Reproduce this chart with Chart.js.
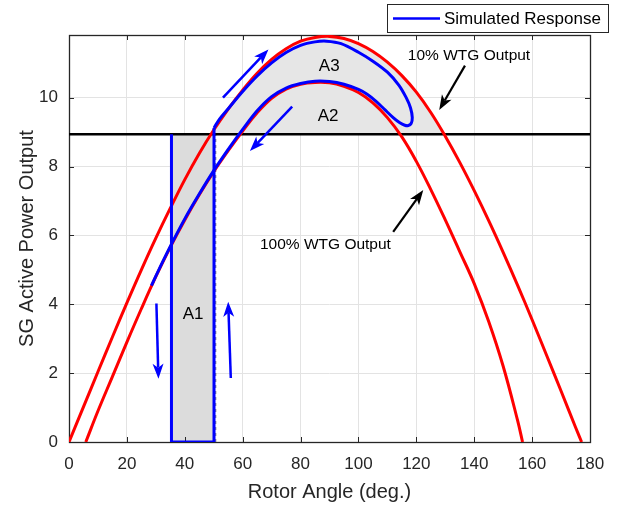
<!DOCTYPE html>
<html><head><meta charset="utf-8">
<script src="https://cdn.jsdelivr.net/npm/chart.js@4.4.1/dist/chart.umd.min.js"></script>
<style>html,body{margin:0;padding:0;background:#fff}canvas{display:block}</style>
</head><body>
<canvas id="c" width="625" height="508"></canvas>
<script>
// ---- data ----
const angle10  = [0,5,10,15,20,25,30,35,40,45,50,55,60,65,70,75,80,85,90,95,100,105,110,115,120,125,130,135,140,145,150,155,160,165,170,175,177.1];
const power10  = [0,1.02,2.04,3.05,4.04,5.0,5.92,6.79,7.62,8.38,9.06,9.67,10.22,10.71,11.11,11.42,11.64,11.75,11.78,11.72,11.57,11.34,11.03,10.64,10.16,9.57,8.88,8.12,7.3,6.43,5.51,4.55,3.55,2.52,1.48,0.43,0];
const angle100 = [5.8,10,15,20,25,30,35,40,45,50,55,60,65,70,75,80,85,90,95,100,105,110,115,120,125,130,135,140,145,150,155,156.7];
const power100 = [0,0.9,1.9,2.9,3.87,4.8,5.66,6.45,7.18,7.85,8.46,9.03,9.56,9.98,10.25,10.39,10.44,10.43,10.33,10.15,9.85,9.42,8.86,8.15,7.33,6.45,5.53,4.6,3.5,2.2,0.62,0];
const mechPower = 8.94;
const faultAngle = [35.4,35.4,50.1,50.1];
const faultPower = [8.94,0,0,9.12];
const swingAngle = [50.1,52,55,60,65,70,75,80,85,89,94,100,105,110,114,116.5,118,118.6,118.2,117.2,116,114.3,112,109,106,103,100,95,90,85,80,75,70,65,60,55,50,45,40,35,30,28.5];
const swingPower = [9.12,9.38,9.68,10.18,10.63,11.01,11.31,11.52,11.62,11.64,11.57,11.32,11.06,10.74,10.36,10.0,9.7,9.42,9.25,9.19,9.2,9.27,9.42,9.66,9.9,10.1,10.24,10.39,10.47,10.48,10.41,10.28,10.03,9.62,9.08,8.5,7.88,7.2,6.48,5.68,4.82,4.54];
const a1Angle = [35.4,50.1];
const xTicks = [0,20,40,60,80,100,120,140,160,180];
const yTicks = [0,2,4,6,8,10];
const labelText  = ['A1','A2','A3','10% WTG Output','100% WTG Output'];
const labelAngle = [42.9,89.5,89.9,138.2,88.6];
const labelPower = [3.72,9.45,10.9,11.22,5.72];
const labelSize  = [17,17,17,15.5,15.5];
const blueArrowFrom = [[53.2,10.0],[77.1,9.74],[30.2,4.02],[55.9,1.86]];
const blueArrowTo   = [[68.9,11.4],[62.5,8.45],[30.9,1.84],[55.0,4.07]];
const blackArrowFrom = [[136.8,10.93],[112.0,6.1]];
const blackArrowTo   = [[127.9,9.64],[122.4,7.32]];
const legendText = 'Simulated Response';

const pts = (xs, ys) => xs.map((x,i)=>({x, y: ys[i]}));
const FONT = "'Liberation Sans', Arial, Helvetica, sans-serif";
const TXT = '#262626';

const overlay = {
  id: 'overlay',
  beforeDatasetsDraw(chart){
    const {ctx, chartArea:a, scales:{x,y}} = chart;
    ctx.save();
    ctx.strokeStyle = '#262626'; ctx.lineWidth = 1;
    ctx.beginPath();
    x.ticks.forEach(t=>{ const p = Math.round(x.getPixelForValue(t.value))+0.5;
      ctx.moveTo(p,a.bottom); ctx.lineTo(p,a.bottom-5); ctx.moveTo(p,a.top); ctx.lineTo(p,a.top+5); });
    y.ticks.forEach(t=>{ const p = Math.round(y.getPixelForValue(t.value))+0.5;
      ctx.moveTo(a.left,p); ctx.lineTo(a.left+5,p); ctx.moveTo(a.right,p); ctx.lineTo(a.right-5,p); });
    ctx.stroke();
    ctx.lineWidth = 1.3;
    ctx.strokeRect(Math.round(a.left)+0.5, Math.round(a.top)+0.5, Math.round(a.right-a.left), Math.round(a.bottom-a.top));
    ctx.restore();
  },
  afterDatasetsDraw(chart){
    const {ctx, scales:{x,y}} = chart;
    ctx.save();
    const arrow = (f, t, color, w) => {
      const x0 = x.getPixelForValue(f[0]), y0 = y.getPixelForValue(f[1]);
      const x1 = x.getPixelForValue(t[0]), y1 = y.getPixelForValue(t[1]);
      const ang = Math.atan2(y1-y0, x1-x0);
      const L = 15, H = 5.5, N = 11;
      ctx.strokeStyle = color; ctx.fillStyle = color; ctx.lineWidth = w;
      ctx.beginPath(); ctx.moveTo(x0,y0);
      ctx.lineTo(x1 - Math.cos(ang)*N, y1 - Math.sin(ang)*N); ctx.stroke();
      const c = Math.cos(ang), s = Math.sin(ang);
      const P = (u,v) => [x1 + c*u - s*v, y1 + s*u + c*v];
      ctx.beginPath();
      let p = P(0,0); ctx.moveTo(p[0],p[1]);
      p = P(-L, H); ctx.lineTo(p[0],p[1]);
      p = P(-N, 0); ctx.lineTo(p[0],p[1]);
      p = P(-L, -H); ctx.lineTo(p[0],p[1]);
      ctx.closePath(); ctx.fill();
    };
    blueArrowFrom.forEach((f,i)=>arrow(f, blueArrowTo[i], '#0000ff', 2.5));
    blackArrowFrom.forEach((f,i)=>arrow(f, blackArrowTo[i], '#000000', 2.2));
    ctx.fillStyle = '#000'; ctx.textAlign = 'center'; ctx.textBaseline = 'middle';
    labelText.forEach((s,i)=>{
      ctx.font = labelSize[i] + 'px ' + FONT;
      ctx.fillText(s, x.getPixelForValue(labelAngle[i]), y.getPixelForValue(labelPower[i]));
    });
    // legend box
    ctx.fillStyle = '#fff'; ctx.fillRect(387.5,4.5,221,28);
    ctx.strokeStyle = '#262626'; ctx.lineWidth = 1; ctx.strokeRect(387.5,4.5,221,28);
    ctx.strokeStyle = '#0000ff'; ctx.lineWidth = 2.5;
    ctx.beginPath(); ctx.moveTo(393,18.5); ctx.lineTo(440,18.5); ctx.stroke();
    ctx.fillStyle = '#000'; ctx.textAlign = 'left'; ctx.font = '17px ' + FONT;
    ctx.fillText(legendText, 444, 19);
    ctx.restore();
  }
};

new Chart(document.getElementById('c'), {
  type: 'scatter',
  data: { datasets: [
    { label: legendText, data: pts(swingAngle, swingPower), showLine: true, borderColor: '#0000ff', borderWidth: 3, pointRadius: 0, tension: 0.3, fill: false },
    { label: 'fault', data: pts(faultAngle, faultPower), showLine: true, borderColor: '#0000ff', borderWidth: 3, pointRadius: 0, tension: 0, fill: false },
    { label: '100% WTG', data: pts(angle100, power100), showLine: true, borderColor: '#ff0000', borderWidth: 3, pointRadius: 0, tension: 0.4, fill: false },
    { label: '10% WTG', data: pts(angle10, power10), showLine: true, borderColor: '#ff0000', borderWidth: 3, pointRadius: 0, tension: 0.4,
      fill: { target: { value: mechPower }, above: '#e6e6e6', below: 'rgba(0,0,0,0)' } },
    { label: 'Pm', data: pts([0,180],[mechPower,mechPower]), showLine: true, borderColor: '#000000', borderWidth: 2.5, pointRadius: 0, fill: false },
    { label: 'edge', data: pts([50.7,50.7],[0,mechPower]), showLine: true, borderColor: '#666', borderWidth: 1, borderDash: [3,3], pointRadius: 0, fill: false },
    { label: 'A1', data: pts(a1Angle, [mechPower, mechPower]), showLine: true, borderWidth: 0, borderColor: 'rgba(0,0,0,0)', pointRadius: 0, fill: 'origin', backgroundColor: '#dcdcdc' }
  ]},
  options: {
    responsive: false, animation: false, devicePixelRatio: 1,
    layout: { padding: { top: 35, right: 35, left: 0, bottom: 0 } },
    plugins: { legend: { display: false }, tooltip: { enabled: false }, filler: { drawTime: 'beforeDatasetsDraw' } },
    scales: {
      x: { type: 'linear', min: 0, max: 180,
        afterBuildTicks: s => { s.ticks = xTicks.map(v=>({value:v})); },
        afterFit: s => { s.height = 66; },
        grid: { color: '#e3e3e3', lineWidth: 1, drawTicks: false },
        border: { display: false },
        ticks: { autoSkip: false, maxRotation: 0, padding: 12, color: TXT, font: { family: FONT, size: 17 } },
        title: { display: true, text: 'Rotor Angle (deg.)', color: TXT, font: { family: FONT, size: 20 }, padding: { top: 0, bottom: 4 } } },
      y: { type: 'linear', min: 0, max: 11.82,
        afterBuildTicks: s => { s.ticks = yTicks.map(v=>({value:v})); },
        afterFit: s => { s.width = 69; },
        grid: { color: '#e3e3e3', lineWidth: 1, drawTicks: false },
        border: { display: false },
        ticks: { padding: 11, color: TXT, font: { family: FONT, size: 17 } },
        title: { display: true, text: 'SG Active Power Output', color: TXT, font: { family: FONT, size: 20 }, padding: { top: 15, bottom: 0 } } }
    }
  },
  plugins: [overlay]
});
</script>
</body></html>
